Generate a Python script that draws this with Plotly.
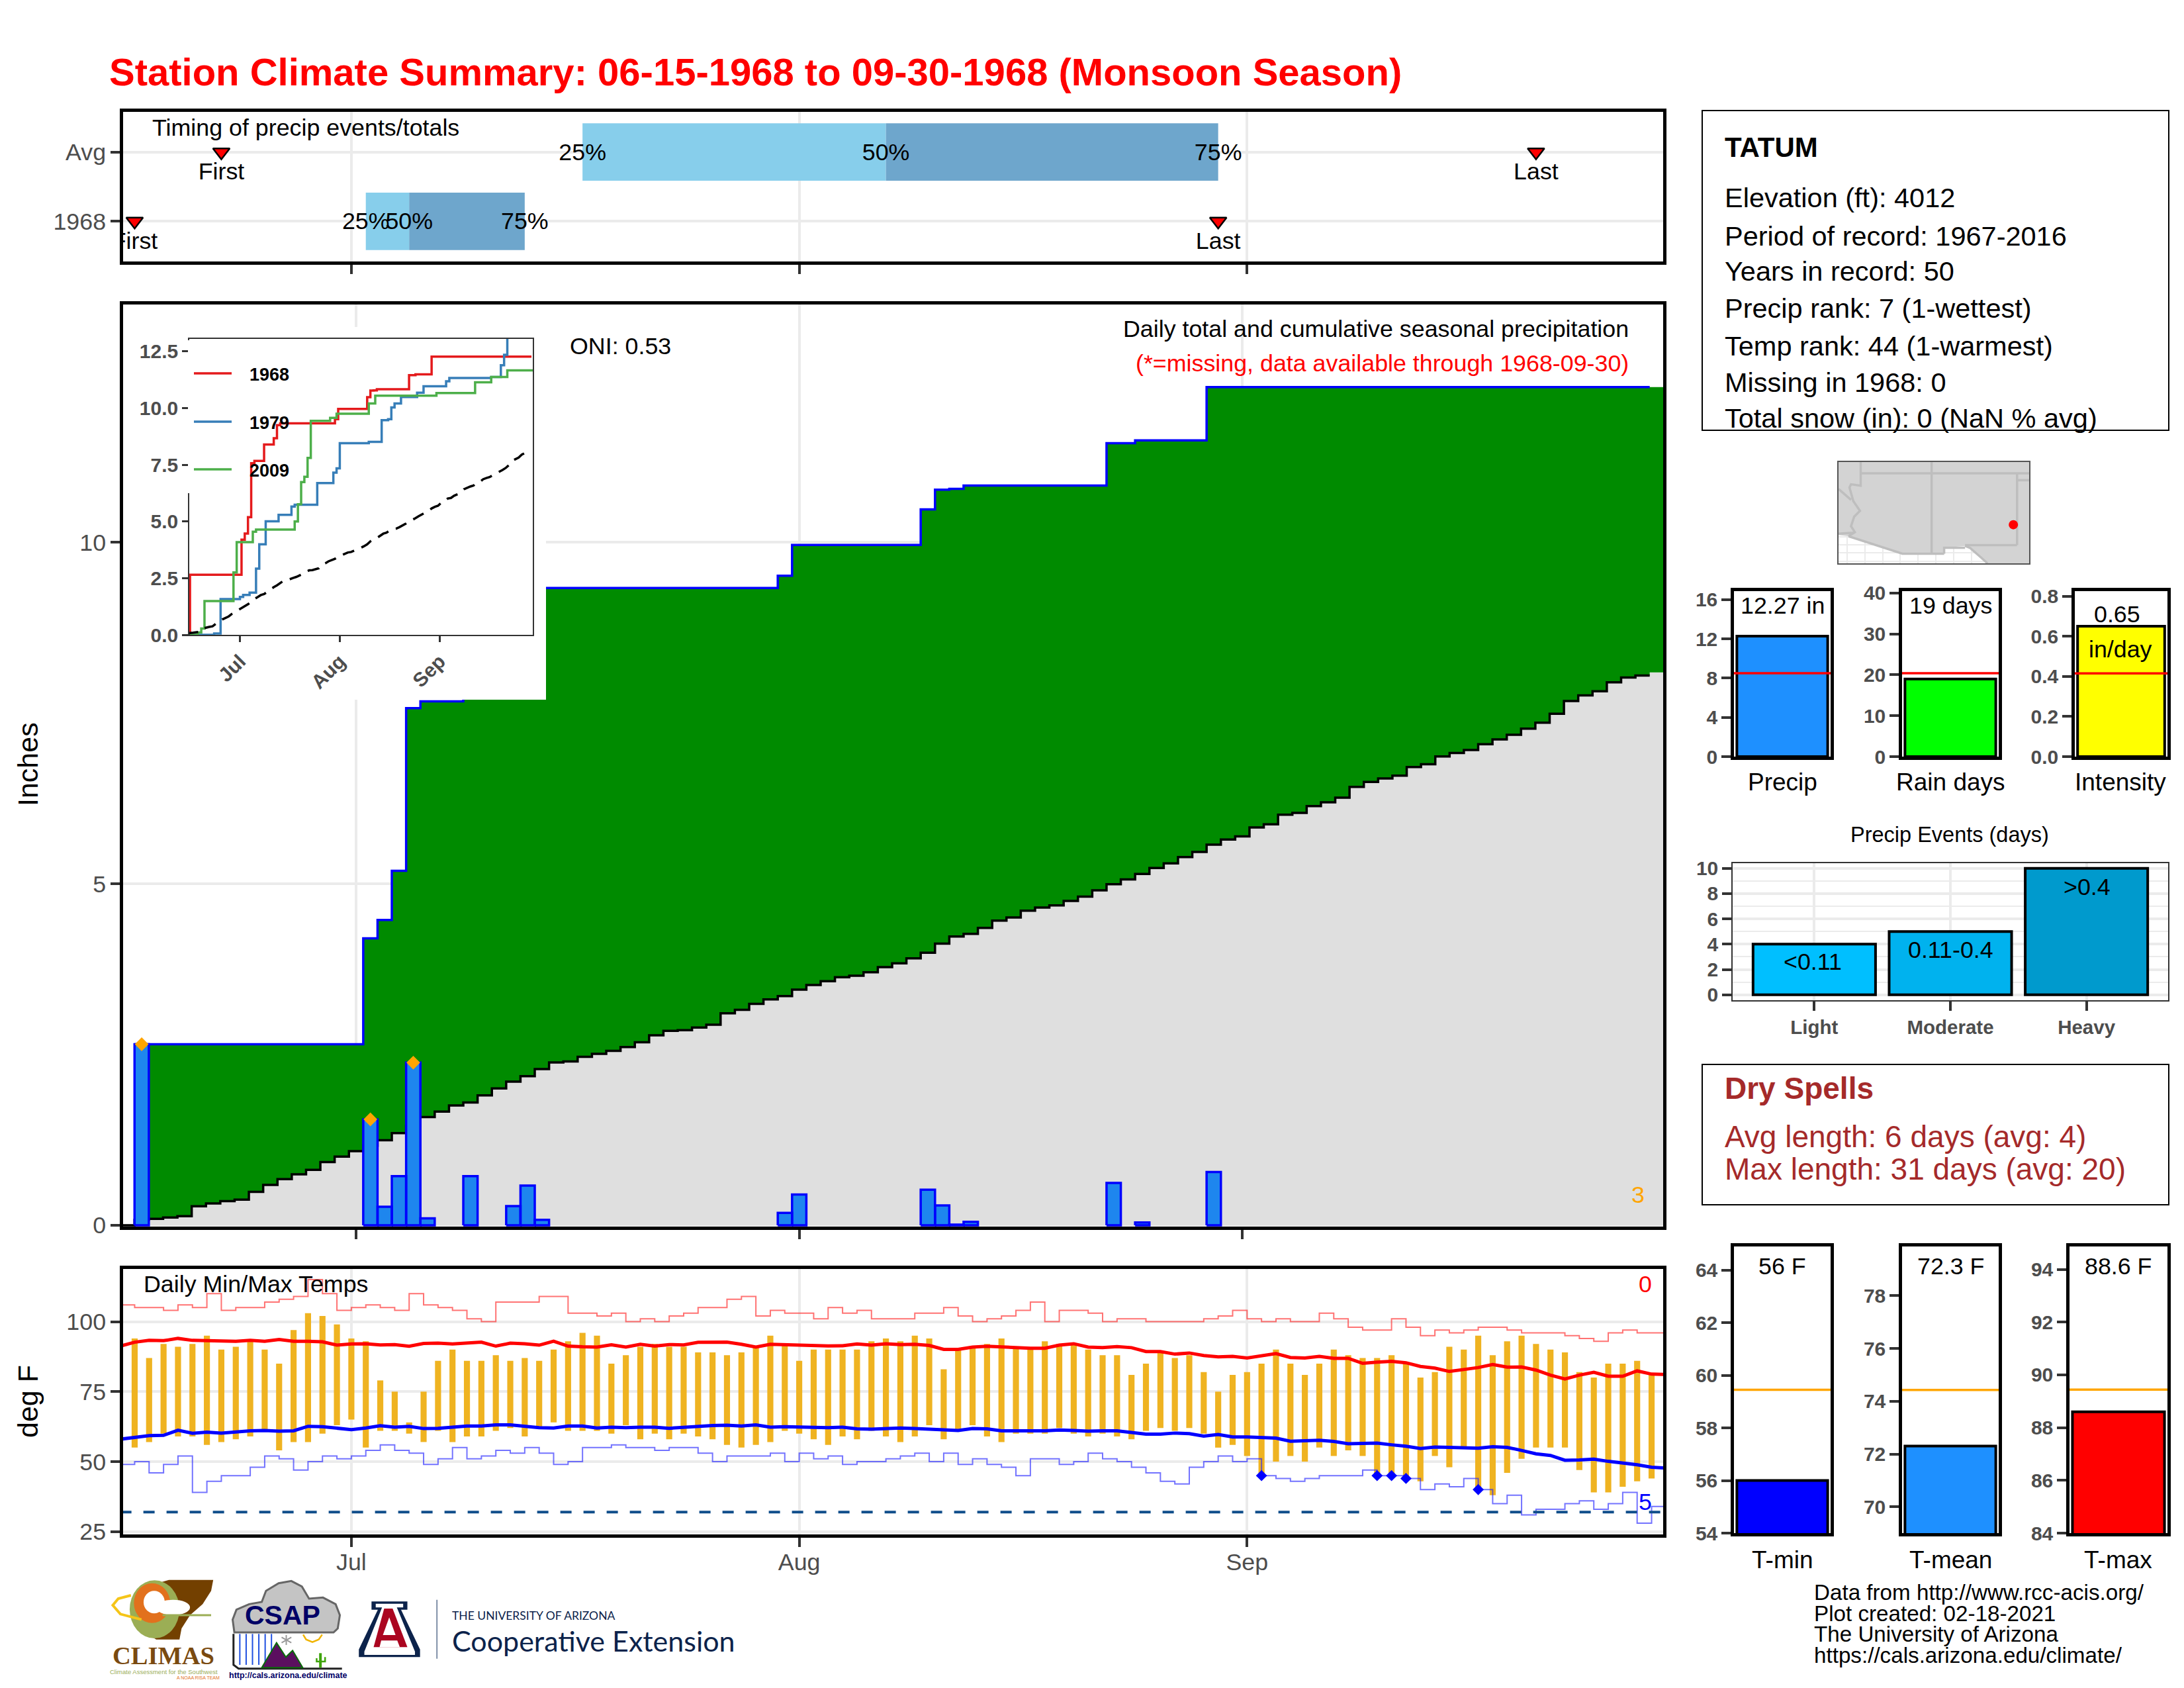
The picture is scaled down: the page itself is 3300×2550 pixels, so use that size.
"""
plot.py - station climate summary page (Tatum, monsoon 1968) rebuilt as Plotly subplots.
"""
import numpy as np
import pandas as pd
import plotly.graph_objects as go

W, H = 3300, 2550
FONT = "Liberation Sans"
GREY = "#4D4D4D"
GRID = "#EBEBEB"

# --- season calendar
season = pd.date_range("1968-06-15", "1968-09-30")
jul1 = pd.Timestamp("1968-07-01")
day = np.array((season - jul1).days)
month_days = [0, 31, 62]
month_names = ["Jul", "Aug", "Sep"]

# --- daily precip (inches), only the days that had rain
rain_dates = ["06-16", "07-02", "07-03", "07-04", "07-05", "07-06", "07-09", "07-12", "07-13", "07-14",
              "07-31", "08-01", "08-10", "08-11", "08-12", "08-13", "08-23", "08-25", "08-30"]
rain_vals = [2.65, 1.55, 0.27, 0.72, 2.38, 0.10, 0.72, 0.28, 0.58, 0.08,
             0.18, 0.45, 0.52, 0.29, 0.01, 0.05, 0.62, 0.04, 0.78]

# --- average cumulative precip by day, Jun 15 to Sep 30
clim_cum = [0, 0.08, 0.094, 0.114, 0.133, 0.278, 0.32, 0.352, 0.375, 0.488, 0.591, 0.675, 0.746, 0.811, 0.924, 1.005,
            1.085, 1.165, 1.244, 1.35, 1.456, 1.583, 1.663, 1.754, 1.796, 1.902, 2.003, 2.102, 2.183, 2.287, 2.383,
            2.399, 2.467, 2.509, 2.554, 2.609, 2.68, 2.78, 2.845, 2.855, 2.894, 2.936, 3.104, 3.155, 3.241, 3.306, 3.354,
            3.449, 3.518, 3.574, 3.631, 3.652, 3.704, 3.778, 3.834, 3.907, 3.99, 4.124, 4.228, 4.267, 4.353, 4.461,
            4.505, 4.604, 4.651, 4.682, 4.747, 4.812, 4.902, 4.993, 5.062, 5.144, 5.231, 5.297, 5.391, 5.465, 5.573, 5.646,
            5.694, 5.824, 5.871, 6.01, 6.036, 6.136, 6.192, 6.261, 6.417, 6.49, 6.54, 6.582, 6.709, 6.749, 6.863,
            6.915, 6.958, 7.042, 7.112, 7.18, 7.271, 7.358, 7.488, 7.674, 7.758, 7.817, 7.948, 8.018, 8.047, 8.094]

# --- other wet years for the inset
y1979_days = [-16, -8, -6, 0, 1, 3, 5, 6, 8, 12, 16, 17, 24, 29, 30, 31, 40, 44, 46, 47, 48, 50, 55, 57, 64, 65, 78, 81, 82, 83, 91]
y1979_vals = [0, 0.06, 1.58, 1.67, 1.76, 1.86, 2.92, 3.99, 5.01, 5.29, 5.66, 5.74, 6.69, 7.15, 7.34, 8.45, 8.51, 9.47, 9.51,
              10.03, 10.2, 10.49, 10.68, 10.96, 11.18, 11.33, 11.37, 11.89, 12.35, 13.2, 13.2]
y2009_days = [-16, -13, -12, -11, -2, -1, 4, 5, 17, 18, 19, 20, 21, 22, 28, 30, 40, 42, 61, 73, 78, 83, 91]
y2009_vals = [0, 0.1, 0.28, 1.49, 2.75, 4.09, 4.55, 4.64, 5.0, 5.76, 6.74, 6.97, 7.8, 9.44, 9.57, 9.75, 10.2, 10.55, 10.66,
              11.14, 11.37, 11.66, 11.66]

# --- timing panel: quartile dates and first/last rain, days from Jul 1
timing_avg = [16, 37, 60]
timing_1968 = [1, 4, 12]
first_last_avg = [-9, 82]
first_last_1968 = [-15, 60]

# --- daily temps (F), Jun 16 to Sep 29
tmax = [94, 87, 92, 91, 92, 95, 90, 91, 93, 90, 85, 97, 103, 102, 99, 94, 93, 79, 75, 64, 75, 86, 90, 86, 86,
        88, 86, 87, 86, 90, 93, 96, 95, 85, 88, 91, 92, 91, 91, 89, 89, 88, 89, 91, 95, 92, 86, 90, 90, 90, 90,
        93, 94, 93, 95, 94, 83, 90, 91, 92, 94, 91, 90, 93, 92, 92, 90, 88, 88, 81, 85, 89, 87, 88, 82, 75,
        81, 82, 85, 90, 85, 81, 85, 90, 88, 87, 87, 88, 85, 80, 82, 91, 90, 95, 88, 93, 95, 92, 90, 89, 82,
        80, 85, 85, 86, 81]
tmin = [55, 57, 60, 59, 59, 56, 57, 58, 59, 61, 54, 57, 57, 60, 63, 65, 55, 61, 61, 60, 57, 61, 57, 59, 59,
        61, 62, 59, 62, 64, 61, 61, 61, 60, 63, 58, 60, 58, 60, 59, 58, 56, 55, 56, 57, 61, 60, 58, 56, 59, 58,
        61, 59, 57, 59, 63, 58, 61, 63, 59, 57, 60, 60, 60, 62, 60, 59, 60, 59, 58, 61, 62, 61, 62, 60, 55,
        56, 52, 45, 50, 52, 50, 55, 52, 54, 52, 45, 45, 44, 43, 52, 48, 55, 40, 38, 46, 51, 55, 55, 55, 47,
        39, 39, 41, 43, 44]

# --- long-term daily means and records, Jun 15 to Sep 30
avg_high = [91.25, 92.65, 93.35, 93.2, 94, 93.3, 93.2, 93, 93, 93.35, 93, 93.6, 93, 93, 92.8, 91.6, 92, 92.1, 91.7, 91.8,
            91.2, 92.2, 92.3, 92, 92.3, 92.65, 91.25, 92.3, 92.1, 91.6, 93, 91.25, 91, 90.9, 91.7, 90.9, 91.9, 91.25, 91.8,
            91.7, 92.6, 92.6, 92.65, 91.9, 90.9, 91.9, 91.7, 91.6, 91.25, 91.3, 91.4, 92, 91.6,
            92.1, 91.8, 91.9, 91.5, 90.1, 90.1, 90.9, 91.2, 90.9, 90.8, 90.5, 90.5, 91.6, 92.1, 90.9, 90.7, 91.1, 90.7,
            89.3, 89.3, 88.4, 88.8, 87.9, 87.4, 87.6, 87, 87.8, 88.6, 87.2, 87, 87.6, 86.9, 86.9, 85.1, 85.5, 85.8, 85.3,
            84, 83.4, 82.2, 82.9, 83.6, 84.7, 83.75, 83.8, 82.7, 80.9, 79.5, 80.9, 81.9, 80.5, 80.5, 82.4, 81.25, 81.1]
avg_low = [58, 58.8, 59.3, 59.4, 61.2, 60.1, 60.5, 60.2, 60.7, 61, 61.1, 60.9, 61, 62.6, 62.5, 62, 61.4, 62, 62.8, 62.3,
           62.6, 61.8, 61.9, 62.3, 62.7, 62.7, 63.1, 63.1, 62.6, 62.1, 62, 62.7, 62.7, 62, 62.3, 62.1, 62.3, 62.3, 61.9,
           62.3, 62.7, 62.9, 63, 62.7, 63.1, 62.3, 62.5, 62.4, 62.1, 62.1, 62.3, 61.7, 61.6,
           61.8, 62, 61.8, 61.6, 61.25, 61.1, 61.8, 61.7, 61, 60.9, 61, 61, 61.3, 61.1, 60.9, 61, 61, 60.4, 59.8, 59.8,
           60.2, 60, 59.1, 59.7, 58.8, 58.8, 58.6, 58.4, 57.3, 57.4, 57.6, 57.2, 56.4, 56.5, 56.6, 56, 55.5, 54.7, 55.2,
           55.1, 54.9, 54.8, 55.3, 55.1, 54, 52.8, 52.2, 50.5, 50.6, 50.9, 50.1, 49.6, 48.9, 48, 47.7]
rec_high = [106, 105, 105, 104, 106, 105, 110, 104, 105, 105, 107, 108, 109, 115, 110, 104, 105, 106, 105, 104, 110, 106,
            105, 104, 101, 100, 107, 107, 107, 109, 109, 103, 103, 102, 103, 100, 101, 100, 102, 103, 105, 105, 108, 109,
            102, 104, 103, 103, 101, 105, 103, 104, 101,
            101, 101, 103, 103, 105, 102, 100, 101, 102, 104, 107, 100, 104, 104, 103, 100, 101, 101, 100, 100, 100, 100,
            101, 102, 104, 101, 100, 101, 100, 100, 103, 101, 98, 97, 97, 101, 98, 95, 97, 96, 97, 98, 98, 97, 96, 96, 96,
            95, 94, 93, 96, 97, 96, 96, 96]
rec_low = [49, 50, 46, 49, 52, 39, 43, 45, 45, 48, 52, 51, 47, 50, 52, 51, 52, 54, 56, 54, 53, 49, 51, 55, 51, 52, 54, 53,
           55, 53, 49, 50, 55, 55, 56, 55, 55, 54, 55, 55, 53, 50, 52, 52, 52, 53, 50, 53, 51, 52, 49, 50, 50,
           51, 52, 53, 50, 53, 49, 51, 49, 48, 45, 51, 51, 49, 50, 53, 51, 50, 48, 46, 43, 42, 48, 50, 52, 50, 51, 45,
           44, 43, 44, 45, 45, 45, 47, 45, 45, 44, 40, 42, 41, 44, 40, 35, 38, 31, 33, 33, 35, 36, 33, 35, 39, 28, 34, 34]
freeze_f = 32

# --- side panels
side_bars = [("Precip", 12.27, 8.5, "#1E90FF"), ("Rain days", 19, 20.4, "#00FF00"), ("Intensity", 0.65, 0.415, "#FFFF00")]
event_names = ["Light", "Moderate", "Heavy"]
event_counts = [4, 5, 10]
event_colors = ["#00BFFF", "#00B2EE", "#009ACD"]
temp_bars = [("T-min", 56, 59.45, "#0000FF"), ("T-mean", 72.3, 74.43, "#1E90FF"), ("T-max", 88.6, 89.44, "#FF0000")]

# --- locator map outline (lon, lat)
land_lon = [-115.6, -114.9, -111.1, -108.17, -108.17, -106.7, -106.36, -105.57, -105.12, -102.19, -102.19, -115.6]
land_lat = [32.51, 32.42, 31.15, 31.15, 31.58, 31.72, 31.58, 30.87, 30.45, 30.45, 37.82, 37.82]
border_lon = [-114.04, -114.04, -114.72, -114.83, -114.56, -114.09, -114.5, -114.72, -114.45, -114.9, None,
              -115.6, -114.72, None, -115.6, -114.5, None, -114.04, -102.19, None, -109.05, -109.05, None,
              -103.04, -103.04, None, -103.04, -102.19, None, -106.7, -103.04, None, -108.17, -108.17, -106.7, None,
              -114.9, -111.1, -108.17, None, -106.7, -106.36, -105.57, -105.12]
border_lat = [37.82, 36.1, 36.2, 35.97, 34.98, 34.27, 33.85, 33.15, 32.72, 32.42, None,
              35.86, 35.07, None, 32.6, 32.68, None, 37, 37, None, 37.82, 31.15, None,
              37, 31.78, None, 36.5, 36.5, None, 31.78, 31.78, None, 31.15, 31.58, 31.58, None,
              32.42, 31.15, 31.15, None, 31.72, 31.58, 30.87, 30.45]
station_lon, station_lat = [-103.3], [33.26]


def fx(x):
    return x / W


def fy(y):
    return 1 - y / H


fig = go.Figure()
layout = {}


def ax(n):
    return {"xaxis": "x" if n == 1 else f"x{n}", "yaxis": "y" if n == 1 else f"y{n}"}


def panel(n, box, xr, yr, xticks=None, xtext=None, yticks=None, ytext=None, line=4.5, linecolor="black",
          grid=True, xlabels=False, tick=None, **extra):
    left, top, right, bottom = box
    tick = tick or dict(family=FONT, size=35.8, color=GREY)
    common = dict(showline=line > 0, linewidth=line, linecolor=linecolor, mirror=True, zeroline=False,
                  showgrid=grid, gridcolor=GRID, gridwidth=4, layer="above traces")
    xname = "xaxis" if n == 1 else f"xaxis{n}"
    yname = "yaxis" if n == 1 else f"yaxis{n}"
    layout[xname] = dict(domain=[fx(left), fx(right)], range=xr, anchor=ax(n)["yaxis"],
                         tickmode="array", tickvals=xticks or [], ticktext=xtext or [],
                         ticks="outside" if xticks else "", ticklen=14, tickwidth=3.5, tickcolor="#333333",
                         showticklabels=xlabels, tickfont=tick, **common)
    layout[yname] = dict(domain=[fy(bottom), fy(top)], range=yr, anchor=ax(n)["xaxis"],
                         tickmode="array", tickvals=yticks or [], ticktext=ytext or [],
                         ticks="outside" if yticks else "", ticklen=14, tickwidth=3.5, tickcolor="#333333",
                         showticklabels=bool(yticks), tickfont=tick, **common)
    layout[yname].update(extra)


notes = []


def note(text, x, y, size=35.8, color="black", anchor="center", bold=False, angle=0, family=FONT):
    notes.append(dict(text=text, x=fx(x), y=fy(y), xref="paper", yref="paper", showarrow=False, xanchor=anchor,
                      yanchor="middle", textangle=angle, borderpad=0,
                      font=dict(family=family, size=size, color=color, weight=700 if bold else 400)))


shapes = []


def logo_xy(pt):
    # logo artwork is positioned in a small pixel grid of its own
    return fx(150 + pt[0] / 1.568), fy(2360 + pt[1] / 3)


def poly(points, fill=None, stroke=None, width=0, close=True):
    parts = [f"{'M' if i == 0 else 'L'}{logo_xy(p)[0]:.5f},{logo_xy(p)[1]:.5f}" for i, p in enumerate(points)]
    shapes.append(dict(type="path", xref="paper", yref="paper", path=" ".join(parts) + (" Z" if close else ""),
                       fillcolor=fill if fill else "rgba(0,0,0,0)", line=dict(color=stroke or "rgba(0,0,0,0)", width=width)))


def oval(x0, y0, x1, y1, fill):
    a, b = logo_xy((x0, y0)), logo_xy((x1, y1))
    shapes.append(dict(type="circle", xref="paper", yref="paper", x0=a[0], y0=b[1], x1=b[0], y1=a[1],
                       fillcolor=fill, line=dict(width=0)))


def box(left, top, right, bottom, color="black", width=2, fill=None):
    shapes.append(dict(type="rect", xref="paper", yref="paper", x0=fx(left), x1=fx(right), y0=fy(bottom), y1=fy(top),
                       line=dict(color=color, width=width), fillcolor=fill if fill else "rgba(0,0,0,0)"))


# ---------- main precip panel
panel(1, (186, 460, 2513, 1853), [-16.3, 91.44], [-0.02, 13.48], xticks=month_days, yticks=[0, 5, 10], ytext=["0", "5", "10"])
daily = pd.Series(0.0, index=season)
for d, v in zip(rain_dates, rain_vals):
    daily[pd.Timestamp("1968-" + d)] = v
cum = daily.cumsum().values
edges = day - 0.5
clim = np.array(clim_cum)
fill_x = list(edges[1:]) + [91.5]

fig.add_trace(go.Scatter(x=fill_x, y=list(clim[1:]) + [clim[-1]], mode="lines", line=dict(width=0, shape="hv"),
                         fill="tozeroy", fillcolor="#DFDFDF", **ax(1)))
fig.add_trace(go.Scatter(x=fill_x, y=list(cum[1:]) + [cum[-1]], mode="lines", line=dict(width=0, shape="hv"),
                         fill="tonexty", fillcolor="#008B00", **ax(1)))
fig.add_trace(go.Scatter(x=edges, y=list(clim[:-1]) + [clim[-2]], mode="lines", line=dict(color="black", width=3.5, shape="hv"), **ax(1)))
fig.add_trace(go.Scatter(x=edges[1:], y=cum[1:], mode="lines", line=dict(color="#0000FF", width=3.5, shape="hv"), **ax(1)))
# plotly always paints go.Bar under scatter fills, so the daily columns are closed scatter outlines
wet = daily.values > 0
col_x, col_y = [], []
for d, v in zip(day[wet], daily.values[wet]):
    col_x += [d - 0.5, d - 0.5, d + 0.5, d + 0.5, d - 0.5, None]
    col_y += [0, v, v, 0, 0, None]
fig.add_trace(go.Scatter(x=col_x, y=col_y, mode="lines", fill="toself", fillcolor="#1E86EE",
                         line=dict(color="#0000FF", width=3.5), **ax(1)))
big = daily.values > 1.5
fig.add_trace(go.Scatter(x=day[big], y=daily.values[big], mode="markers",
                         marker=dict(symbol="diamond", size=16, color="#FFA500"), **ax(1)))

# white patch behind the inset, it has to sit between the main panel and the inset
panel(2, (186, 494, 825, 1057), [0, 1], [0, 1], line=0, grid=False)
layout["xaxis2"]["visible"] = False
layout["yaxis2"]["visible"] = False
fig.add_trace(go.Scatter(x=[], y=[], **ax(2)))

# ---------- inset
inset_tick = dict(family=FONT, size=30, color=GREY, weight=700)
panel(3, (286, 512, 805, 959), [-15.72, 90.9], [0, 13.05], xticks=month_days, xtext=month_names,
      yticks=[0, 2.5, 5, 7.5, 10, 12.5], ytext=["0.0", "2.5", "5.0", "7.5", "10.0", "12.5"],
      line=1.5, linecolor="#333333", grid=False, xlabels=True, tick=inset_tick)
layout["xaxis3"].update(tickangle=-45, ticklen=9, tickwidth=2.5)
layout["yaxis3"].update(ticklen=9, tickwidth=2.5)
fig.add_trace(go.Scatter(x=edges, y=cum, mode="lines", line=dict(color="#E41A1C", width=3.5, shape="hv"), **ax(3)))
fig.add_trace(go.Scatter(x=y1979_days, y=y1979_vals, mode="lines", line=dict(color="#377EB8", width=3.5, shape="hv"), **ax(3)))
fig.add_trace(go.Scatter(x=y2009_days, y=y2009_vals, mode="lines", line=dict(color="#4DAF4A", width=3.5, shape="hv"), **ax(3)))
fig.add_trace(go.Scatter(x=edges, y=clim, mode="lines", line=dict(color="black", width=3.5, dash="18px,12px"), **ax(3)))
box(284, 514, 289, 745, color="white", width=0, fill="white")
for yr, color, ypos in [("1968", "#E41A1C", 564), ("1979", "#377EB8", 637), ("2009", "#4DAF4A", 709)]:
    shapes.append(dict(type="line", xref="paper", yref="paper", x0=fx(293), x1=fx(350), y0=fy(ypos), y1=fy(ypos),
                       line=dict(color=color, width=3.5)))
    note(yr, 376, ypos + 2, size=27, anchor="left", bold=True)

# ---------- timing panel
panel(4, (186, 169, 2513, 395), [-15.8, 90.8], [0.42, 2.58], xticks=month_days, yticks=[1, 2], ytext=["1968", "Avg"])
for row, q in [(2, timing_avg), (1, timing_1968)]:
    fig.add_trace(go.Bar(y=[row], x=[q[1] - q[0]], base=[q[0]], orientation="h", width=0.83, marker=dict(color="#87CEEB", line=dict(width=0)), **ax(4)))
    fig.add_trace(go.Bar(y=[row], x=[q[2] - q[1]], base=[q[1]], orientation="h", width=0.83, marker=dict(color="#6EA6CC", line=dict(width=0)), **ax(4)))
    fig.add_trace(go.Scatter(x=q, y=[row - 0.03] * 3, mode="text", text=["25%", "50%", "75%"], textposition="middle center",
                             textfont=dict(family=FONT, size=35.8, color="black"), **ax(4)))
for row, days_ in [(2, first_last_avg), (1, first_last_1968)]:
    fig.add_trace(go.Scatter(x=days_, y=[row, row], mode="markers+text", text=["First", "Last"], textposition="bottom center",
                             marker=dict(symbol="triangle-down", size=22, color="#FF0000", line=dict(color="black", width=2.5)),
                             textfont=dict(family=FONT, size=35.8, color="black"), **ax(4)))

# ---------- temperature panel
panel(5, (186, 1917, 2513, 2318), [-15.8, 90.8], [24, 118.8], xticks=month_days, xtext=month_names,
      yticks=[25, 50, 75, 100], ytext=["25", "50", "75", "100"], xlabels=True)
layout["xaxis5"]["ticklabelstandoff"] = -8
tdays = day[1:len(tmax) + 1]
fig.add_trace(go.Scatter(x=day, y=rec_high, mode="lines", line=dict(color="rgba(255,40,40,0.65)", width=2, shape="hv"), **ax(5)))
fig.add_trace(go.Scatter(x=day, y=rec_low, mode="lines", line=dict(color="rgba(40,40,255,0.65)", width=2, shape="hv"), **ax(5)))
fig.add_trace(go.Bar(x=tdays, base=tmin, y=np.array(tmax) - np.array(tmin), width=0.42, marker=dict(color="#EFB321", line=dict(width=0)), **ax(5)))
fig.add_trace(go.Scatter(x=day, y=avg_high, mode="lines", line=dict(color="#FF0000", width=5), **ax(5)))
fig.add_trace(go.Scatter(x=day, y=avg_low, mode="lines", line=dict(color="#0000FF", width=5), **ax(5)))
fig.add_trace(go.Scatter(x=[day[0], day[-1]], y=[freeze_f, freeze_f], mode="lines", line=dict(color="#104E8B", width=4, dash="17px,18px"), **ax(5)))
broke = np.array(tmin) <= np.array(rec_low[1:len(tmin) + 1])
fig.add_trace(go.Scatter(x=tdays[broke], y=np.array(tmin)[broke], mode="markers", marker=dict(symbol="diamond", size=13, color="#0000FF"), **ax(5)))

# ---------- locator map
panel(6, (2778, 698, 3066, 851), [-115.6, -102.19], [30.45, 37.82], xticks=[-115, -113.75, -112.5, -111.25, -110, -108.75, -107.5, -106.25],
      yticks=[30.6, 31.2, 31.8, 32.4], line=1.5, linecolor="#555555")
layout["xaxis6"].update(ticks="", gridwidth=1.5, showticklabels=False)
layout["yaxis6"].update(ticks="", gridwidth=1.5, showticklabels=False)
fig.add_trace(go.Scatter(x=land_lon, y=land_lat, mode="lines", fill="toself", fillcolor="#D3D3D3", line=dict(width=0), **ax(6)))
fig.add_trace(go.Scatter(x=border_lon, y=border_lat, mode="lines", line=dict(color="#BEBEBE", width=3.5), connectgaps=False, **ax(6)))
fig.add_trace(go.Scatter(x=station_lon, y=station_lat, mode="markers", marker=dict(color="#FF0000", size=14), **ax(6)))

# ---------- three summary bars, precip row
bold_tick = dict(family=FONT, size=30, color=GREY, weight=700)
sbar_boxes = [(2620, 893, 2766, 1143), (2874, 893, 3020, 1143), (3135, 893, 3275, 1143)]
sbar_ranges = [[0, 16.86], [0, 40.47], [0, 0.825]]
sbar_ticks = [[0, 4, 8, 12, 16], [0, 10, 20, 30, 40], [0, 0.2, 0.4, 0.6, 0.8]]
sbar_text = [[str(t) for t in sbar_ticks[0]], [str(t) for t in sbar_ticks[1]], ["0.0", "0.2", "0.4", "0.6", "0.8"]]
for i, (name, val, avg, color) in enumerate(side_bars):
    n = 7 + i
    panel(n, sbar_boxes[i], [-0.5, 0.5], sbar_ranges[i], yticks=sbar_ticks[i], ytext=sbar_text[i], grid=False, tick=bold_tick)
    fig.add_trace(go.Bar(x=[0], y=[val], width=0.94, marker=dict(color=color, line=dict(color="black", width=4)), **ax(n)))
    fig.add_trace(go.Scatter(x=[-0.5, 0.5], y=[avg, avg], mode="lines", line=dict(color="#FF0000", width=3.5), **ax(n)))
note("12.27 in", 2693, 915)
note("19 days", 2947, 915)
note("0.65", 3199, 928)
note("in/day", 3204, 981)
note("Precip", 2693, 1181, size=37)
note("Rain days", 2947, 1181, size=37)
note("Intensity", 3204, 1181, size=37)

# ---------- precip events
panel(10, (2618, 1304, 3276, 1511), [-0.6, 2.6], [-0.43, 10.4], xticks=[0, 1, 2], xtext=event_names,
      yticks=[0, 2, 4, 6, 8, 10], ytext=["0", "2", "4", "6", "8", "10"], line=1.5, linecolor="#333333", xlabels=True, tick=bold_tick,
      minor=dict(tickvals=[1, 3, 5, 7, 9], showgrid=True, gridcolor=GRID, gridwidth=1.5, ticks=""))
layout["xaxis10"]["tickfont"] = dict(family=FONT, size=29.5, color=GREY, weight=700)
fig.add_trace(go.Bar(x=[0, 1, 2], y=event_counts, width=0.9, marker=dict(color=event_colors, line=dict(color="black", width=4)), **ax(10)))
note("Precip Events (days)", 2946, 1261, size=32.5)
note("&lt;0.11", 2739, 1453)
note("0.11-0.4", 2947, 1435)
note("&gt;0.4", 3153, 1340)

# ---------- temperature summary bars
tbar_boxes = [(2620, 1883, 2766, 2316), (2874, 1883, 3020, 2316), (3127, 1883, 3275, 2316)]
tbar_ranges = [[54, 64.9], [69, 79.87], [84, 94.87]]
tbar_ticks = [[54, 56, 58, 60, 62, 64], [70, 72, 74, 76, 78], [84, 86, 88, 90, 92, 94]]
tbar_x = [2693, 2947, 3200]
for i, (name, val, avg, color) in enumerate(temp_bars):
    n = 11 + i
    panel(n, tbar_boxes[i], [-0.5, 0.5], tbar_ranges[i], yticks=tbar_ticks[i], ytext=[str(t) for t in tbar_ticks[i]], grid=False, tick=bold_tick)
    fig.add_trace(go.Bar(x=[0], y=[val], width=0.94, marker=dict(color=color, line=dict(color="black", width=4)), **ax(n)))
    fig.add_trace(go.Scatter(x=[-0.5, 0.5], y=[avg, avg], mode="lines", line=dict(color="#FFA500", width=3.5), **ax(n)))
    note(f"{val} F", tbar_x[i], 1913)
    note(name, tbar_x[i], 2356, size=37)

# ---------- page text
note("Station Climate Summary: 06-15-1968 to 09-30-1968 (Monsoon Season)", 164, 109, size=58, color="#FF0000", anchor="left", bold=True)
note("Timing of precip events/totals", 229, 193, anchor="left")
note("ONI: 0.53", 860, 523, anchor="left")
note("Daily total and cumulative seasonal precipitation", 2462, 497, anchor="right")
note("(*=missing, data available through 1968-09-30)", 2462, 549, color="#FF0000", anchor="right")
note("3", 2475, 1805, color="#FFA500")
note("Daily Min/Max Temps", 216, 1940, anchor="left")
note("0", 2486, 1940, color="#FF0000")
note("5", 2486, 2269, color="#0000FF")
note("Inches", 42, 1155, size=43, angle=-90)
note("deg F", 42, 2117, size=43, angle=-90)

box(2572, 167, 3277, 650)
station_lines = ["Elevation (ft): 4012", "Period of record: 1967-2016", "Years in record: 50", "Precip rank: 7 (1-wettest)",
                 "Temp rank: 44 (1-warmest)", "Missing in 1968: 0", "Total snow (in): 0 (NaN % avg)"]
station_y = [299, 356, 410, 465, 522, 577, 631]
note("TATUM", 2605, 223, size=42, anchor="left", bold=True)
for line, ypos in zip(station_lines, station_y):
    note(line, 2605, ypos, size=41.5, anchor="left")

box(2572, 1608, 3277, 1820)
note("Dry Spells", 2605, 1644, size=46, color="#A52A2A", anchor="left", bold=True)
note("Avg length: 6 days (avg: 4)", 2605, 1717, size=46, color="#A52A2A", anchor="left")
note("Max length: 31 days (avg: 20)", 2605, 1766, size=46, color="#A52A2A", anchor="left")

credits = ["Data from http://www.rcc-acis.org/", "Plot created: 02-18-2021", "The University of Arizona", "https://cals.arizona.edu/climate/"]
for line, ypos in zip(credits, [2405, 2437, 2468, 2500]):
    note(line, 2740, ypos, size=33.2, anchor="left")

# ---------- logos, rough redraw of the bitmaps
poly([(165, 80), (270, 80), (265, 130), (245, 190), (215, 240), (195, 300), (190, 350), (135, 350), (100, 310), (85, 260), (75, 180), (110, 110)], fill="#734000")
oval(72, 82, 190, 345, "#9BAE55")
oval(82, 95, 168, 275, "#E2711D")
oval(105, 130, 155, 232, "white")
oval(135, 170, 215, 240, "white")
poly([(75, 150), (45, 165), (32, 195), (50, 235), (100, 260)], stroke="#F5C518", width=4, close=False)
poly([(150, 240), (265, 240)], stroke="#9BAE55", width=3, close=False)
note("CLIMAS", 247, 2501, size=38.5, color="#7A4A10", family="Liberation Serif", bold=True)
note("Climate Assessment for the Southwest", 247, 2525, size=9.5, color="#9BAE5A")
note("A NOAA RISA TEAM", 299, 2534, size=7, color="#E2711D")

poly([(320, 318), (316, 260), (325, 215), (355, 190), (385, 180), (395, 130), (425, 95), (455, 85), (480, 110), (497, 165),
      (530, 160), (560, 190), (570, 240), (565, 300), (555, 318)], fill="#C4C4C4", stroke="#666666", width=3)
note("CSAP", 427, 2440, size=41, color="#000066", bold=True)
for bar_x in [333, 348, 363, 378, 393, 408]:
    poly([(bar_x, 325), (bar_x, 465)], stroke="#1F4FE0", width=2, close=False)
poly([(318, 325), (318, 465), (330, 482), (575, 482)], stroke="#222222", width=3, close=False)
poly([(385, 478), (420, 365), (442, 430), (458, 400), (482, 478)], fill="#5B0F5F", stroke="#0A6A0A", width=2)
poly([(483, 328), (490, 350), (505, 362), (520, 350), (528, 328)], stroke="#F0B400", width=2.5, close=False)
for seg in [[(443, 330), (443, 375)], [(432, 340), (455, 365)], [(455, 340), (432, 365)]]:
    poly(seg, stroke="#999999", width=2, close=False)
poly([(524, 412), (524, 478)], stroke="#3FA30B", width=4, close=False)
poly([(515, 435), (515, 450), (535, 450), (535, 430)], stroke="#3FA30B", width=2.5, close=False)
note("http://cals.arizona.edu/climate", 436, 2531, size=12.5, color="#000066", bold=True)

poly([(645, 178), (730, 178), (730, 215), (715, 215), (760, 395), (760, 430), (615, 430), (615, 395), (660, 215), (645, 215)], fill="#0C234B")
poly([(655, 188), (720, 188), (720, 205), (705, 205), (748, 405), (748, 420), (628, 420), (628, 405), (670, 205), (655, 205)], fill="white")
poly([(675, 210), (695, 210), (730, 385), (650, 385)], fill="#AB0520")
poly([(687, 250), (702, 330), (672, 330)], fill="white")
poly([(668, 355), (706, 355), (712, 385), (664, 385)], fill="white")
poly([(800, 170), (800, 437)], stroke="#5A6F8E", width=1.5, close=False)
note("THE UNIVERSITY OF ARIZONA", 682, 2440, size=17.5, color="#0C234B", anchor="left", family="Lato")
note("Cooperative Extension", 682, 2478, size=43, color="#0C234B", anchor="left", family="Lato")

fig.update_layout(width=W, height=H, autosize=False, margin=dict(l=0, r=0, t=0, b=0, autoexpand=False), showlegend=False,
                  paper_bgcolor="white", plot_bgcolor="white", barmode="overlay",
                  annotations=notes, shapes=shapes, **layout)
fig.write_html("out.html", config={"displayModeBar": False}, post_script="document.body.style.margin='0';")
